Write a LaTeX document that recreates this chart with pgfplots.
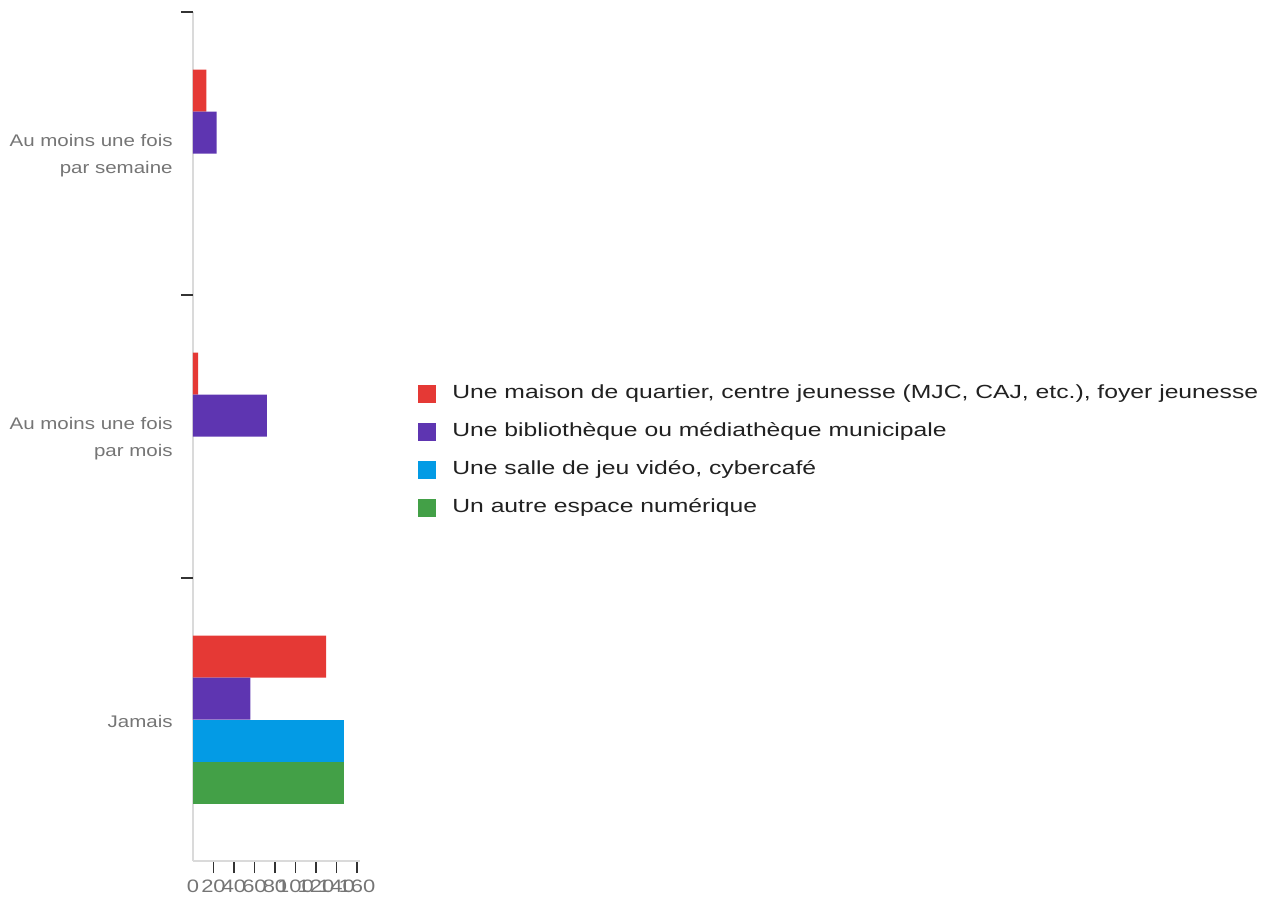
\documentclass[border=0pt]{standalone}
\usepackage{pgfplots}
\pgfplotsset{compat=1.18}
\usepackage{fontspec}
\setmainfont{Liberation Sans}[FakeStretch=1.22]
\newfontfamily\legendfont{Liberation Sans}[FakeStretch=1.3]
\definecolor{cRed}{HTML}{E53935}
\definecolor{cPurple}{HTML}{5E35B1}
\definecolor{cBlue}{HTML}{039BE5}
\definecolor{cGreen}{HTML}{43A047}
\definecolor{axisgrey}{HTML}{DADADA}
\definecolor{labelgrey}{HTML}{757575}
\definecolor{tickdark}{HTML}{333333}
\begin{document}
\begin{tikzpicture}
\useasboundingbox (0,0) rectangle (636.5pt,-449pt);
\begin{axis}[
    at={(96.5pt,-430.5pt)}, anchor=south west,
    scale only axis, width=83.5pt, height=424.5pt,
    xmin=0, xmax=163, ymin=-0.5, ymax=2.5,
    axis x line*=bottom, axis y line*=left,
    axis line style={-, draw=axisgrey, line width=1pt},
    tick align=outside,
    xtick={20,40,...,160},
    extra x ticks={0},
    extra x tick style={major tick length=0pt, xticklabel style={yshift=-6pt}},
    x tick style={draw=tickdark, line width=0.75pt},
    major tick length=6pt,
    xticklabel style={font=\fontsize{9}{10}\selectfont, text=labelgrey, /pgf/number format/assume math mode=true},
    ytick={0,1,2},
    yticklabels={Jamais, {Au moins une fois\\par mois}, {Au moins une fois\\par semaine}},
    y tick style={draw=none},
    yticklabel style={align=right, font=\fontsize{8.4}{13.3}\selectfont, text=labelgrey, inner sep=0pt, xshift=-4pt, yshift=-1pt},
    extra y ticks={0.5,1.5,2.5},
    extra y tick labels={},
    extra y tick style={y tick style={draw=tickdark, line width=0.75pt}},
    legend style={at={(rel axis cs:1.347,0.483)}, anchor=west, draw=none, fill=none,
        inner sep=0pt, row sep=10pt, font=\legendfont\fontsize{9.5}{11}\selectfont, text=black!87,
        nodes={inner sep=0pt, text height=7pt, text depth=2pt},
        /tikz/every odd column/.append style={column sep=8pt}},
    legend cell align=left,
    legend image code/.code={\fill[#1] (0pt,-4.5pt) rectangle (9pt,4.5pt);},
]
\addplot[xbar, bar width=21pt, bar shift=31.5pt, fill=cRed, draw=none] coordinates {(13,2) (5,1) (130,0)};
\addplot[xbar, bar width=21pt, bar shift=10.5pt, fill=cPurple, draw=none] coordinates {(23,2) (72,1) (56,0)};
\addplot[xbar, bar width=21pt, bar shift=-10.5pt, fill=cBlue, draw=none] coordinates {(147,0)};
\addplot[xbar, bar width=21pt, bar shift=-31.5pt, fill=cGreen, draw=none] coordinates {(147,0)};
\legend{{Une maison de quartier, centre jeunesse (MJC, CAJ, etc.), foyer jeunesse},
  {Une bibliothèque ou médiathèque municipale},
  {Une salle de jeu vidéo, cybercafé},
  {Un autre espace numérique}}
\end{axis}
\end{tikzpicture}
\end{document}
